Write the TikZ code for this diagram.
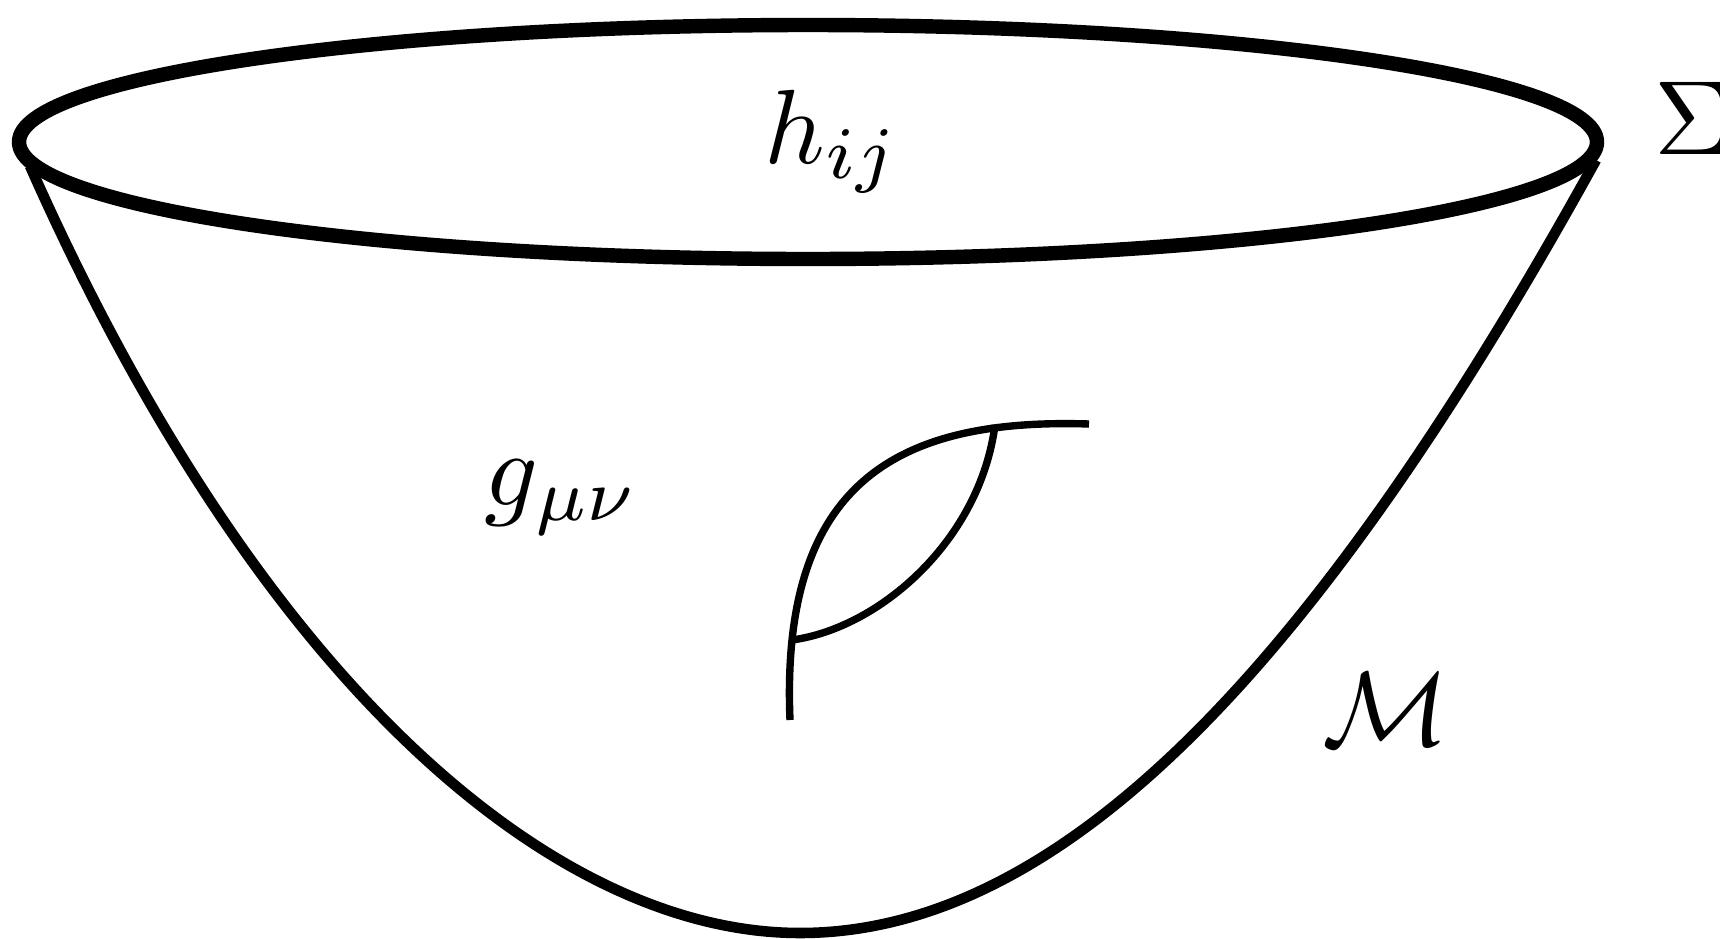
\documentclass[tikz,border=0pt]{standalone}
\begin{document}
\begin{tikzpicture}[x=0.01cm,y=-0.01cm,
  rim/.style={line width=4.1pt},
  bowl/.style={line width=3pt},
  geo/.style={line width=2.1pt},
  lbl/.style={anchor=base,inner sep=0pt,scale=3}]
\useasboundingbox (0,0) rectangle (1720,939);
% bowl
\coordinate (bl) at (30,166);
\coordinate (bb) at (800,933);
\coordinate (br) at (1596,160);
\draw[bowl] (bl) .. controls (265,695) and (560,933) .. (bb)
  .. controls (1065,933) and (1320,660) .. (br);
% rim
\draw[rim] (808,142) ellipse [x radius=789, y radius=117];
% geodesics
\coordinate (g0) at (790,720);
\coordinate (g1) at (1089,424);
\coordinate (j0) at (792,640);
\coordinate (j1) at (995,425);
\draw[geo] (g0) .. controls (780,480) and (900,418) .. (g1);
\draw[geo] (j0) .. controls (880,628) and (980,540) .. (j1);
% labels
\node[lbl] (h) at (832,163) {$h_{ij}$};
\node[lbl] (g) at (562,505) {$g_{\mu\nu}$};
\node[lbl] (M) at (1386,745) {$\mathcal{M}$};
\node[lbl,anchor=base west] (S) at (1652,154) {$\Sigma$};
\end{tikzpicture}
\end{document}
